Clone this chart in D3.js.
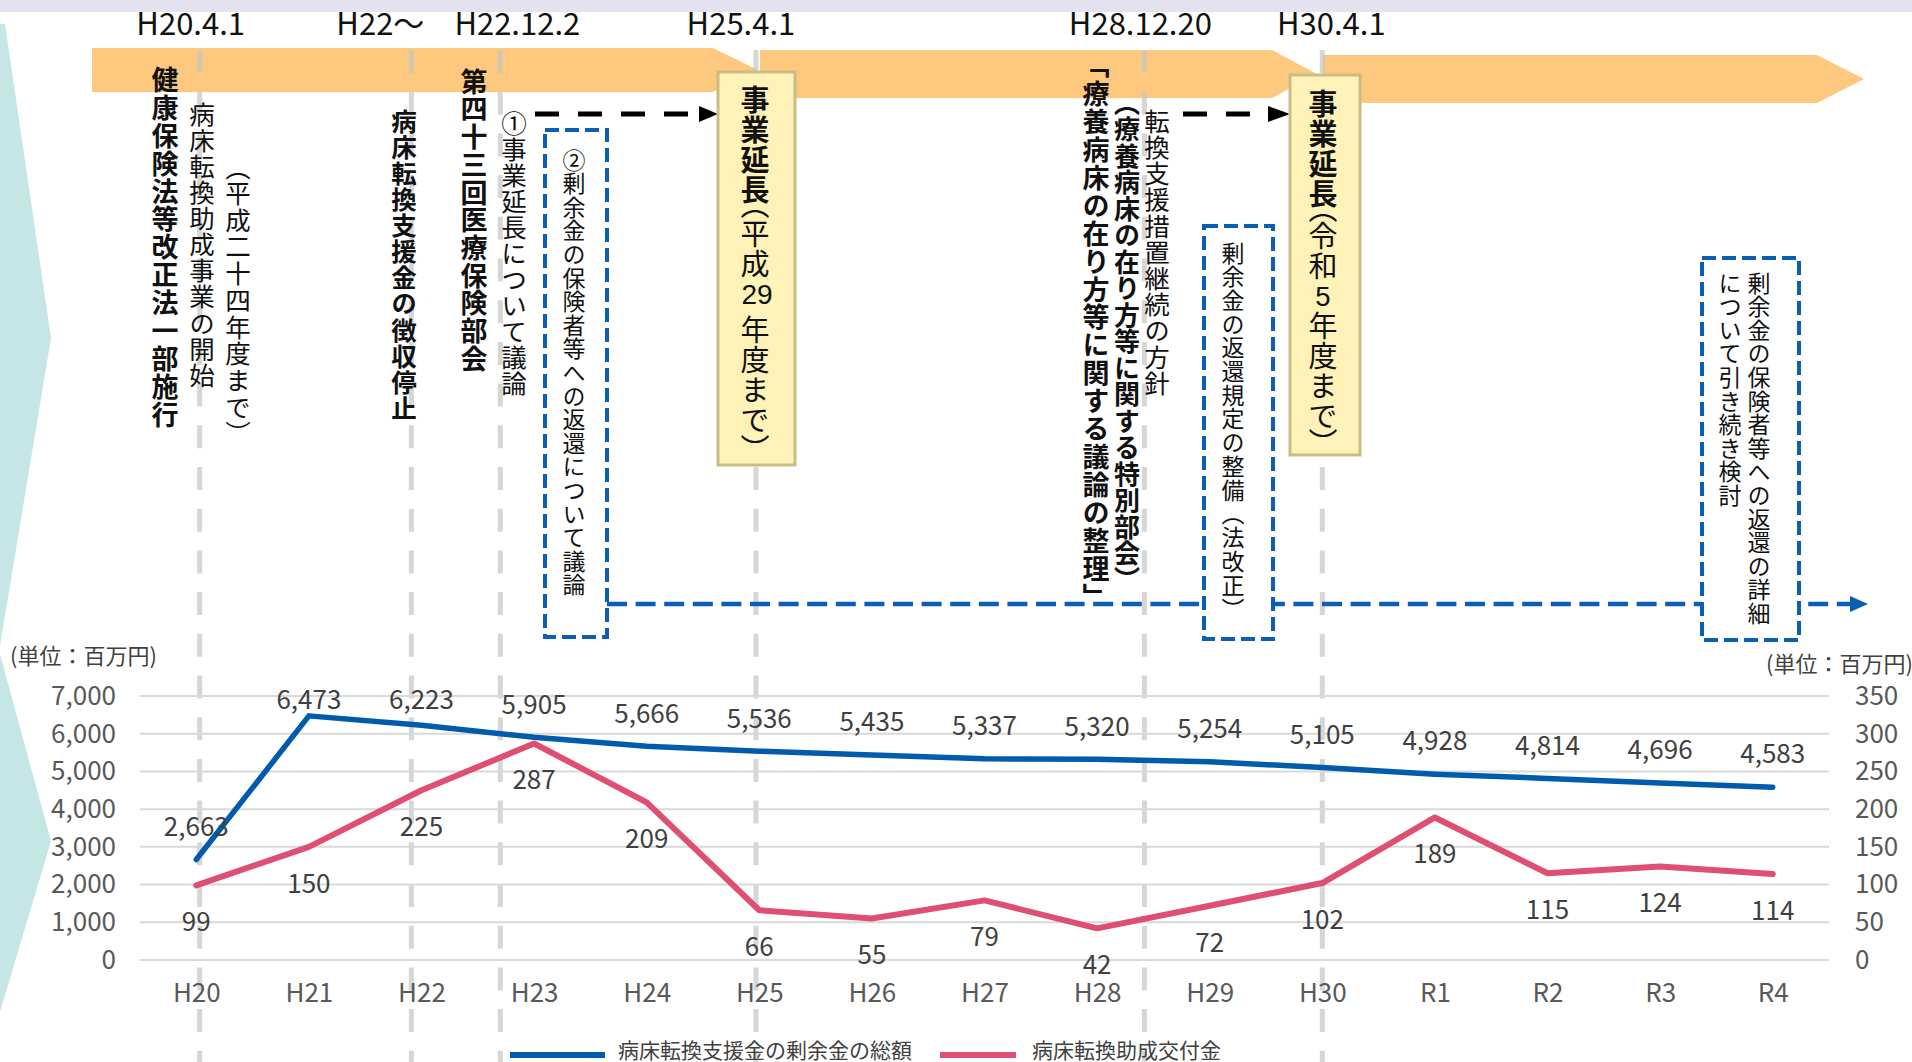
<!DOCTYPE html>
<html>
<head>
<meta charset="utf-8">
<script src="https://cdn.jsdelivr.net/npm/d3@7"></script>
<style>
  html, body { margin: 0; padding: 0; background: #fff; overflow: hidden; }
  svg { display: block; }
  text.vt { writing-mode: vertical-rl; text-orientation: mixed; font-feature-settings: "vhal" 1; }
</style>
</head>
<body>
<svg width="1912" height="1062"></svg>
<script>
const JP = "'Noto Sans CJK JP', 'Noto Sans', sans-serif";

// ---- chart data
const years = ["H20","H21","H22","H23","H24","H25","H26","H27","H28","H29","H30","R1","R2","R3","R4"];
const surplus = [2663, 6473, 6223, 5905, 5666, 5536, 5435, 5337, 5320, 5254, 5105, 4928, 4814, 4696, 4583];
const grants = [99, 150, 225, 287, 209, 66, 55, 79, 42, 72, 102, 189, 115, 124, 114];
const leftTicks = [0, 1000, 2000, 3000, 4000, 5000, 6000, 7000];
const rightTicks = [0, 50, 100, 150, 200, 250, 300, 350];
const seriesNames = ["病床転換支援金の剰余金の総額", "病床転換助成交付金"];
const unitLabel = "(単位：百万円)";

// ---- timeline data (position in Heisei fiscal years)
const eventDates = ["H20.4.1", "H22～", "H22.12.2", "H25.4.1", "H28.12.20", "H30.4.1"];
const eventYears = [20.03, 21.91, 22.7, 24.97, 28.42, 30.0];
const notes = [
  [{t: "健康保険法等改正法一部施行", b: true}],
  [{t: "病床転換助成事業の開始"}],
  [{t: "（平成二十四年度まで）"}],
  [{t: "病床転換支援金の徴収停止", b: true}],
  [{t: "第四十三回医療保険部会", b: true}],
  [{t: "①事業延長について議論"}],
  [{t: "②剰余金の保険者等への返還について議論"}],
  [{t: "事業延長", b: true}, {t: "（平成"}, {t: "29", n: true}, {t: "年度まで）"}],
  [{t: "「療養病床の在り方等に関する議論の整理」", b: true}],
  [{t: "（療養病床の在り方等に関する特別部会）", b: true}],
  [{t: "転換支援措置継続の方針"}],
  [{t: "剰余金の返還規定の整備　（法改正）"}],
  [{t: "事業延長", b: true}, {t: "（令和"}, {t: "5", n: true}, {t: "年度まで）"}],
  [{t: "剰余金の保険者等への返還の詳細"}],
  [{t: "について引き続き検討"}]
];

const svg = d3.select("svg");

// scales
const x = d3.scalePoint().domain(years).range([140, 1829]).padding(0.5);
const yL = d3.scaleLinear().domain([0, 7000]).range([960, 696]);
const yR = d3.scaleLinear().domain([0, 350]).range([960, 696]);
const xYear = d3.scaleLinear().domain([20, 34]).range([x("H20"), x("R4")]);

// ---- background decorations
svg.append("rect").attr("x", 0).attr("y", 0).attr("width", 1912).attr("height", 12).attr("fill", "#e4e2ee");
svg.append("polygon").attr("points", "0,24 5,24 51,338 0,646").attr("fill", "#c6e6e5");
svg.append("polygon").attr("points", "0,654 51,841 0,1012").attr("fill", "#c6e6e5");

// orange timeline band
const bands = [
  [[92,48],[713,48],[758,70],[713,92],[92,92]],
  [[760,50],[1272,50],[1317,74],[1272,98],[760,98]],
  [[1323,55],[1817,55],[1864,79],[1817,103],[1323,103]]
];
svg.selectAll("polygon.band").data(bands).join("polygon")
  .attr("class", "band")
  .attr("points", d => d.map(p => p.join(",")).join(" "))
  .attr("fill", "#fec97f");

// gray dashed event lines
svg.selectAll("line.ev").data(eventYears).join("line")
  .attr("class", "ev")
  .attr("x1", d => xYear(d)).attr("x2", d => xYear(d))
  .attr("y1", 50).attr("y2", 1062)
  .attr("stroke", "#c4c4c4").attr("stroke-opacity", 0.7)
  .attr("stroke-width", 5).attr("stroke-dasharray", "23,18.7");

// ---- chart
const grid = svg.append("g");
grid.selectAll("line").data(leftTicks).join("line")
  .attr("x1", 140).attr("x2", 1829)
  .attr("y1", d => yL(d)).attr("y2", d => yL(d))
  .attr("stroke", "#d9d9d9").attr("stroke-width", 2);

function styleAxis(g) {
  g.select(".domain").remove();
  g.attr("font-family", JP).attr("font-size", 26);
  g.selectAll("text").attr("fill", "#595959");
}
svg.append("g").attr("transform", "translate(140,0)")
  .call(d3.axisLeft(yL).tickValues(leftTicks).tickFormat(d3.format(",")).tickSize(0).tickPadding(24))
  .call(styleAxis);
svg.append("g").attr("transform", "translate(1829,0)")
  .call(d3.axisRight(yR).tickValues(rightTicks).tickSize(0).tickPadding(26))
  .call(styleAxis);
svg.append("g").attr("transform", "translate(0,960)")
  .call(d3.axisBottom(x).tickSize(0).tickPadding(24))
  .call(styleAxis);

const lineL = d3.line().x((d, i) => x(years[i])).y(d => yL(d));
const lineR = d3.line().x((d, i) => x(years[i])).y(d => yR(d));
svg.append("path").attr("d", lineL(surplus)).attr("fill", "none")
  .attr("stroke", "#005bac").attr("stroke-width", 5.5).attr("stroke-linejoin", "round").attr("stroke-linecap", "round");
svg.append("path").attr("d", lineR(grants)).attr("fill", "none")
  .attr("stroke", "#de4f72").attr("stroke-width", 6).attr("stroke-linejoin", "round").attr("stroke-linecap", "round");

const fmt = d3.format(",");
svg.append("g").attr("font-family", JP).attr("font-size", 26).attr("fill", "#404040").attr("text-anchor", "middle")
  .selectAll("text").data(surplus).join("text")
  .attr("x", (d, i) => x(years[i]))
  .attr("y", d => Math.max(yL(d) - 32, yL(7000) + 4.5))
  .attr("dy", "0.32em").text(d => fmt(d));
svg.append("g").attr("font-family", JP).attr("font-size", 26).attr("fill", "#404040").attr("text-anchor", "middle")
  .selectAll("text").data(grants).join("text")
  .attr("x", (d, i) => x(years[i]))
  .attr("y", d => yR(d) + 37.5)
  .attr("dy", "0.32em").text(d => d);

// unit labels
svg.append("text").attr("x", 10).attr("y", 656).attr("dy", "0.35em")
  .attr("font-family", JP).attr("font-size", 22).attr("fill", "#404040").text(unitLabel);
svg.append("text").attr("x", 1766).attr("y", 664).attr("dy", "0.35em")
  .attr("font-family", JP).attr("font-size", 22).attr("fill", "#404040").text(unitLabel);

// legend
const legend = svg.append("g").attr("font-family", JP).attr("font-size", 21).attr("fill", "#404040");
legend.append("rect").attr("x", 510).attr("y", 1052).attr("width", 95).attr("height", 6).attr("fill", "#005bac");
legend.append("text").attr("x", 618).attr("y", 1051).attr("dy", "0.35em").text(seriesNames[0]);
legend.append("rect").attr("x", 940).attr("y", 1052).attr("width", 76).attr("height", 6).attr("fill", "#de4f72");
legend.append("text").attr("x", 1032).attr("y", 1051).attr("dy", "0.35em").text(seriesNames[1]);

// ---- timeline annotations
const blue = "#0a5fb4";
// long blue dashed arrow
svg.append("line").attr("x1", 607).attr("x2", 1851).attr("y1", 604).attr("y2", 604)
  .attr("stroke", blue).attr("stroke-width", 4.5).attr("stroke-dasharray", "20,8.6");
svg.append("polygon").attr("points", "1850,596 1868,604 1850,612").attr("fill", blue);

// black dashed arrows
[[535, 699, 718], [1183, 1268, 1290]].forEach(a => {
  svg.append("line").attr("x1", a[0]).attr("x2", a[1]).attr("y1", 114).attr("y2", 114)
    .attr("stroke", "#000").attr("stroke-width", 5).attr("stroke-dasharray", "24,19");
  svg.append("polygon").attr("points", `${a[1]},106 ${a[2]},114 ${a[1]},122`).attr("fill", "#000");
});

// boxes
const blueBoxes = [[545, 130, 62, 507], [1204, 226, 69, 413], [1702, 258, 97, 382]];
svg.selectAll("rect.bbox").data(blueBoxes).join("rect").attr("class", "bbox")
  .attr("x", d => d[0]).attr("y", d => d[1]).attr("width", d => d[2]).attr("height", d => d[3])
  .attr("fill", "#fff").attr("stroke", blue).attr("stroke-width", 4).attr("stroke-dasharray", "14,6");
const yellowBoxes = [[718, 72, 77, 393], [1290, 75, 70, 380]];
svg.selectAll("rect.ybox").data(yellowBoxes).join("rect").attr("class", "ybox")
  .attr("x", d => d[0]).attr("y", d => d[1]).attr("width", d => d[2]).attr("height", d => d[3])
  .attr("fill", "#fff2b8").attr("stroke", "#c9bd86").attr("stroke-width", 3);

// top date labels
const dateDx = [-9, -31, 17, -15, -4, 9];
svg.append("g").attr("font-family", JP).attr("font-size", 31).attr("fill", "#111").attr("text-anchor", "middle")
  .selectAll("text").data(eventDates).join("text")
  .attr("x", (d, i) => xYear(eventYears[i]) + dateDx[i]).attr("y", 35).text(d => d);

// vertical text: one vertical-mode <text> per character,
// digit runs set horizontally inside the column
function vtext(parts, o) {
  const g = svg.append("g").attr("font-family", JP).attr("fill", "#111");
  const half = o.half || o.fs / 2;
  const put = (s, yy, w, fs) => g.append("text").attr("class", "vt")
    .attr("x", o.x).attr("y", yy).attr("font-size", fs).attr("font-weight", w).text(s);
  let y = o.top;
  parts.forEach(p => {
    const w = p.b ? 700 : 400;
    if (p.n) {
      g.append("text").attr("x", o.x + (o.numDx || 0)).attr("y", y + o.numBase)
        .attr("text-anchor", "middle").attr("font-family", "'Liberation Sans', Arial, sans-serif")
        .attr("font-size", o.numFs).attr("font-weight", w).text(p.t);
      y += o.numAdv;
      return;
    }
    for (const c of p.t) {
      if (c === "（" || c === "「") {
        put(c, y, w, o.fs);
        y += half;
      } else if (c === "）" || c === "」") {
        put(c, y + half - o.fs / 2, w, o.fs);
        y += half;
      } else if (c === "　") {
        y += half;
      } else {
        put(c, y + (o.step - o.fs) / 2, w, o.fs);
        y += o.step;
      }
    }
  });
}

const noteLayout = [
  {x: 165, top: 65.7, fs: 27, step: 27.9},
  {x: 202, top: 101, fs: 25.5, step: 26.1},
  {x: 238, top: 167, fs: 25.5, step: 26.7, half: 13},
  {x: 404, top: 108, fs: 25.5, step: 26.1},
  {x: 474, top: 67.6, fs: 27, step: 27.7},
  {x: 514, top: 110, fs: 25.5, step: 26},
  {x: 574, top: 148, fs: 23, step: 23.6},
  {x: 755, top: 85, fs: 29, step: 30, half: 14, numFs: 28, numBase: 25, numAdv: 36, numDx: 2},
  {x: 1096, top: 65, fs: 27, step: 27.9, half: 15},
  {x: 1127, top: 103, fs: 26, step: 26.5, half: 13},
  {x: 1157, top: 108, fs: 25.5, step: 26.2},
  {x: 1233, top: 241, fs: 23, step: 23.7, half: 12},
  {x: 1323, top: 89, fs: 29, step: 30, half: 12, numFs: 27.5, numBase: 24.6, numAdv: 30},
  {x: 1759, top: 271, fs: 23, step: 23.6},
  {x: 1730, top: 271, fs: 23, step: 23.6}
];
notes.forEach((n, i) => vtext(n, noteLayout[i]));
</script>
</body>
</html>
